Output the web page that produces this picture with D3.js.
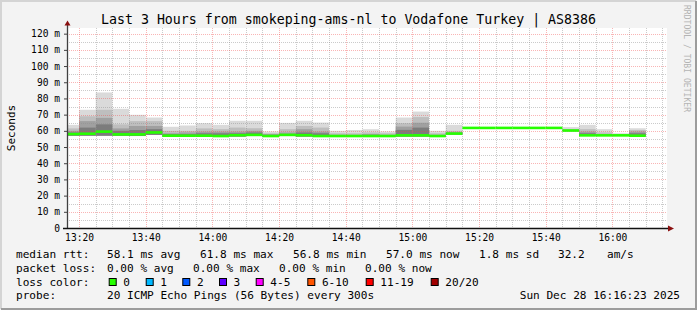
<!DOCTYPE html>
<html>
<head>
<meta charset="utf-8">
<script src="https://cdn.jsdelivr.net/npm/d3@7"></script>
<style>
    html, body { margin: 0; padding: 0; background: #fff; }
    svg { display: block; font-family: "DejaVu Sans Mono", monospace; }
</style>
</head>
<body>
<svg id="chart" width="697" height="310"></svg>
<script>
// 5 minute steps, labelled by the end of each step
const stepEnds = ['13:20', '13:25', '13:30', '13:35', '13:40', '13:45', '13:50', '13:55',
    '14:00', '14:05', '14:10', '14:15', '14:20', '14:25', '14:30', '14:35', '14:40',
    '14:45', '14:50', '14:55', '15:00', '15:05', '15:10', '15:15', '15:20', '15:25',
    '15:30', '15:35', '15:40', '15:45', '15:50', '15:55', '16:00', '16:05', '16:10'];

// rtt in ms
const medianRtt = [58.0, 58.2, 59.5, 57.8, 57.8, 59.0, 57.0, 57.0, 57.0, 56.8, 57.3, 57.5,
    56.8, 57.5, 57.3, 56.8, 56.8, 56.8, 56.8, 56.8, 57.2, 57.2, 56.8, 58.3, 61.8, 61.8,
    61.8, 61.8, 61.8, 61.8, 60.2, 57.2, 57.2, 57.2, 57.0];
const maxRtt = [63.7, 73.0, 83.7, 73.6, 69.9, 68.2, 62.5, 63.3, 64.7, 63.7, 66.2, 66.2,
    59.6, 64.9, 66.2, 65.1, 60.0, 60.5, 61.0, 59.6, 68.2, 71.9, 60.0, 63.7, 61.8, 61.8,
    61.8, 61.8, 61.8, 61.8, 62.3, 63.7, 61.0, 58.5, 61.6];
const p90Rtt = [61.5, 69.0, 73.0, 64.0, 66.0, 66.0, 60.0, 60.0, 61.5, 61.0, 62.0, 61.6,
    58.5, 61.0, 63.0, 62.0, 58.5, 58.5, 59.0, 58.5, 64.7, 68.5, 58.5, 60.0, 61.8, 61.8,
    61.8, 61.8, 61.8, 61.8, 61.0, 61.0, 59.0, 58.0, 60.5];
const p75Rtt = [60.0, 66.0, 68.0, 61.5, 63.0, 63.0, 58.5, 59.0, 59.5, 59.5, 59.5, 60.0,
    58.0, 59.0, 61.0, 59.5, 57.5, 57.5, 58.0, 57.5, 62.6, 65.0, 57.5, 59.0, 61.8, 61.8,
    61.8, 61.8, 61.8, 61.8, 60.6, 59.5, 58.0, 57.5, 59.5];
const p60Rtt = [59.0, 62.0, 64.0, 60.0, 60.5, 61.0, 58.0, 58.0, 58.5, 58.5, 58.5, 59.0,
    57.5, 58.0, 59.0, 58.5, 57.0, 57.0, 57.5, 57.0, 60.6, 62.0, 57.0, 58.8, 61.8, 61.8,
    61.8, 61.8, 61.8, 61.8, 60.4, 58.5, 57.5, 57.3, 58.5];
const minRtt = [57.0, 57.0, 57.0, 57.0, 56.8, 57.5, 56.5, 56.5, 56.5, 56.3, 56.5, 56.8,
    56.2, 56.8, 56.5, 56.2, 56.2, 56.2, 56.2, 56.2, 56.5, 56.5, 56.2, 57.8, 61.8, 61.8,
    61.8, 61.8, 61.8, 61.8, 59.8, 56.8, 56.8, 56.8, 56.6];
// lost pings out of 20 per step
const lostPings = [0, 0, 0, 0, 0, 0, 0, 0, 0, 0, 0, 0, 0, 0, 0, 0, 0, 0, 0, 0, 0, 0, 0, 0,
    0, 0, 0, 0, 0, 0, 0, 0, 0, 0, 0];

const xTickLabels = ['13:20', '13:40', '14:00', '14:20', '14:40', '15:00', '15:20', '15:40', '16:00'];
const yTicks = [0, 10, 20, 30, 40, 50, 60, 70, 80, 90, 100, 110, 120];

const lossLabels = ['0', '1', '2', '3', '4-5', '6-10', '11-19', '20/20'];
const lossColors = ['#26ff00', '#00b8ff', '#0059ff', '#5e00ff', '#ff00ff', '#ff5500', '#ff0000', '#a10000'];
const lossUpper = [0, 1, 2, 3, 5, 10, 19, 20];

const rttStats = ['58.1 ms avg', '61.8 ms max', '56.8 ms min', '57.0 ms now', '1.8 ms sd', '32.2', 'am/s'];
const lossStats = ['0.00 % avg', '0.00 % max', '0.00 % min', '0.00 % now'];
const titleText = 'Last 3 Hours from smokeping-ams-nl to Vodafone Turkey | AS8386';
const probeText = '20 ICMP Echo Pings (56 Bytes) every 300s';
const stampText = 'Sun Dec 28 16:16:23 2025';

const svg = d3.select('#chart');
const plotL = 67, plotR = 667, plotT = 28, plotB = 228;

const toTime = (s) => new Date(`2025-12-28T${s}:00Z`);
const x = d3.scaleUtc()
    .domain([new Date(Date.UTC(2025, 11, 28, 13, 16, 23)), new Date(Date.UTC(2025, 11, 28, 16, 16, 23))])
    .range([plotL, plotR])
    .clamp(true);
const y = d3.scaleLinear().domain([0, 123.5]).range([plotB, plotT]);

// frame
svg.append('rect').attr('width', 697).attr('height', 310).attr('fill', '#f3f3f3');
svg.append('path').attr('d', 'M1,309V1H696').attr('fill', 'none').attr('stroke', '#d4d4d4').attr('stroke-width', 2);
svg.append('path').attr('d', 'M1,309H696V1').attr('fill', 'none').attr('stroke', '#9c9c9c').attr('stroke-width', 2);

svg.append('rect')
    .attr('x', plotL).attr('y', plotT)
    .attr('width', plotR - plotL).attr('height', plotB - plotT)
    .attr('fill', '#fff');

// smoke, light to dark
const smokeLayers = [
    { upper: maxRtt, fill: '#dadada' },
    { upper: p90Rtt, fill: '#bebebe' },
    { upper: p75Rtt, fill: '#a0a0a0' },
    { upper: p60Rtt, fill: '#7c7c7c' }
];
const stepStart = (s) => x(new Date(toTime(s).getTime() - 300000));

smokeLayers.forEach((layer) => {
    svg.append('g')
        .selectAll('rect')
        .data(stepEnds)
        .join('rect')
        .attr('x', (d) => stepStart(d))
        .attr('width', (d) => x(toTime(d)) - stepStart(d))
        .attr('y', (d, i) => y(layer.upper[i]))
        .attr('height', (d, i) => Math.max(0, y(minRtt[i]) - y(layer.upper[i])))
        .attr('fill', layer.fill);
});

// grid
const gridG = svg.append('g').attr('fill', 'none').attr('stroke-dasharray', '1,1');
const minorTimes = d3.utcMinute.every(5).range(x.domain()[0], x.domain()[1]);
const minorStroke = 'rgba(140,140,140,0.45)';
const majorStroke = 'rgba(240,70,70,0.4)';
gridG.selectAll('.vmin')
    .data(minorTimes.filter((t) => t.getUTCMinutes() % 20 !== 0))
    .join('line')
    .attr('x1', (d) => Math.round(x(d)) + 0.5).attr('x2', (d) => Math.round(x(d)) + 0.5)
    .attr('y1', plotT).attr('y2', plotB)
    .attr('stroke', minorStroke);
gridG.selectAll('.hmin')
    .data(d3.range(5, 125, 10))
    .join('line')
    .attr('x1', plotL).attr('x2', plotR)
    .attr('y1', (d) => Math.round(y(d)) + 0.5).attr('y2', (d) => Math.round(y(d)) + 0.5)
    .attr('stroke', minorStroke);
gridG.selectAll('.vmaj')
    .data(xTickLabels)
    .join('line')
    .attr('x1', (d) => Math.round(x(toTime(d))) + 0.5).attr('x2', (d) => Math.round(x(toTime(d))) + 0.5)
    .attr('y1', plotT).attr('y2', plotB)
    .attr('stroke', majorStroke);
gridG.selectAll('.hmaj')
    .data(yTicks.slice(1))
    .join('line')
    .attr('x1', plotL).attr('x2', plotR)
    .attr('y1', (d) => Math.round(y(d)) + 0.5).attr('y2', (d) => Math.round(y(d)) + 0.5)
    .attr('stroke', majorStroke);

// median band, coloured by loss
const lossColor = (n) => lossColors[lossUpper.findIndex((u) => n <= u)];
svg.append('g')
    .selectAll('rect')
    .data(stepEnds)
    .join('rect')
    .attr('x', (d) => stepStart(d))
    .attr('width', (d) => x(toTime(d)) - stepStart(d))
    .attr('y', (d, i) => y(medianRtt[i] + 0.8))
    .attr('height', (d, i) => y(medianRtt[i] - 0.8) - y(medianRtt[i] + 0.8))
    .attr('fill', (d, i) => lossColor(lostPings[i]));

// axes
const yAxis = d3.axisLeft(y)
    .tickValues(yTicks)
    .tickSize(3)
    .tickPadding(4)
    .tickFormat((d) => (d === 0 ? '0' : d + ' m'));
const yG = svg.append('g').attr('transform', `translate(${plotL},0)`).call(yAxis);
yG.select('.domain').remove();
yG.selectAll('line').attr('stroke', '#404040');
yG.selectAll('text').attr('font-family', '"DejaVu Sans Mono"').attr('font-size', 9.6).attr('fill', '#000');

const xAxis = d3.axisBottom(x)
    .tickValues(xTickLabels.map(toTime))
    .tickSize(0)
    .tickPadding(6)
    .tickFormat(d3.utcFormat('%H:%M'));
const xG = svg.append('g').attr('transform', `translate(0,${plotB})`).call(xAxis);
xG.select('.domain').remove();
xG.selectAll('text').attr('font-family', '"DejaVu Sans Mono"').attr('font-size', 9.6).attr('fill', '#000');

svg.append('line').attr('x1', plotL + 0.5).attr('x2', plotL + 0.5).attr('y1', plotB).attr('y2', 23)
    .attr('stroke', '#404040').attr('stroke-width', 1.3);
svg.append('line').attr('x1', 63).attr('x2', 671).attr('y1', plotB + 0.5).attr('y2', plotB + 0.5)
    .attr('stroke', '#111').attr('stroke-width', 1.3);
svg.append('path').attr('d', `M${plotL - 2.5},25.5L${plotL + 3.5},25.5L${plotL + 0.5},20.5Z`).attr('fill', '#8b1010');
svg.append('path').attr('d', `M668,${plotB - 2.5}L668,${plotB + 3.5}L674,${plotB + 0.5}Z`).attr('fill', '#8b1010');

// titles
svg.append('text')
    .attr('x', 348.5).attr('y', 24)
    .attr('text-anchor', 'middle')
    .attr('font-size', 13.8)
    .attr('textLength', 495).attr('lengthAdjust', 'spacingAndGlyphs')
    .text(titleText);
svg.append('text')
    .attr('transform', 'translate(15,128) rotate(-90)')
    .attr('text-anchor', 'middle')
    .attr('font-size', 11)
    .text('Seconds');
svg.append('text')
    .attr('transform', 'translate(684,5) rotate(90)')
    .attr('font-size', 8.5)
    .attr('fill', '#b4b4b4')
    .attr('textLength', 107).attr('lengthAdjust', 'spacingAndGlyphs')
    .text('RRDTOOL / TOBI OETIKER');

// legend
const legend = svg.append('g').attr('font-size', 11.1).attr('fill', '#000');
const putText = (tx, ty, s, anchor) => legend.append('text')
    .attr('x', tx).attr('y', ty)
    .attr('text-anchor', anchor || 'start')
    .style('white-space', 'pre')
    .text(s);

putText(16, 258, 'median rtt:');
[107, 200, 293, 386, 479, 558, 607].forEach((px, i) => putText(px, 258, rttStats[i]));

putText(16, 271.5, 'packet loss:');
[107, 193, 279, 365].forEach((px, i) => putText(px, 271.5, lossStats[i]));

putText(16, 285.5, 'loss color:');
const boxX = [108.7, 145.7, 182.3, 219, 255.7, 307.3, 365.7, 430.7];
lossLabels.forEach((lab, i) => {
    legend.append('rect')
        .attr('x', boxX[i] + 0.5).attr('y', 278.5)
        .attr('width', 7).attr('height', 7)
        .attr('fill', lossColors[i])
        .attr('stroke', '#000');
    putText(boxX[i] + 14.6, 285.5, lab);
});

putText(16, 299, 'probe:');
putText(107, 299, probeText);
putText(680, 299, stampText, 'end');
</script>
</body>
</html>
